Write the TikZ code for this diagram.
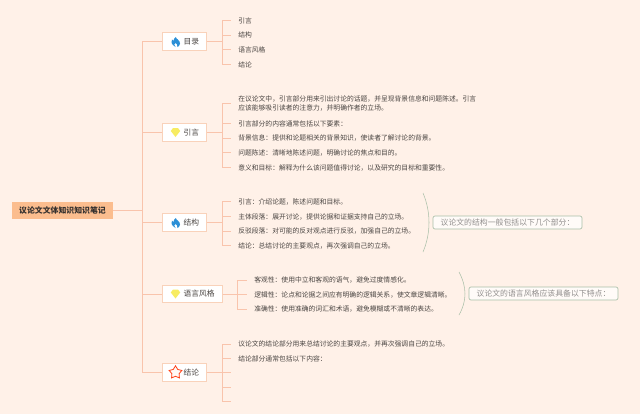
\documentclass[tikz,border=0pt]{standalone}
\usepackage{fontspec}
\setmainfont{Noto Sans CJK SC}
\usepackage{xcolor}
\usetikzlibrary{shapes.geometric}
\definecolor{sfondo}{HTML}{FFF1E8}
\definecolor{ramo}{HTML}{F9C4AC}
\definecolor{bordo}{HTML}{F9D2BA}
\definecolor{radice}{HTML}{FBBD8E}
\definecolor{testo}{HTML}{4A4542}
\definecolor{nota}{HTML}{A9BFA8}
\definecolor{gemma}{HTML}{F7EC62}
\definecolor{fiamma}{HTML}{2B8FD6}
\tikzset{
    root/.style = {fill=radice, text=testo!70!black, font=\fontsize{5.9}{7}\selectfont\bfseries, minimum width=75.75pt, minimum height=12.75pt, inner sep=0pt},
    branch/.style = {draw=bordo, line width=0.8pt, fill=white, text=testo, font=\fontsize{5.8}{7}\selectfont, minimum height=13pt, inner ysep=0pt, inner xsep=5.8pt, anchor=west},
    leaf/.style = {text=testo, font=\fontsize{5.1}{7.3}\selectfont, align=left, anchor=west, inner xsep=5.25pt, inner ysep=1pt},
    note/.style = {draw=nota, rounded corners=1.5pt, line width=0.5pt, fill=white!70!sfondo, text=testo!60!white, font=\fontsize{5.9}{7}\selectfont, minimum width=111.75pt, minimum height=9.75pt, inner sep=0pt},
    trunk/.style = {draw=ramo, line width=0.7pt},
    twig/.style = {draw=ramo, line width=0.45pt},
    brace/.style = {draw=nota, line width=0.4pt}
}
\newcommand{\iconFlame}[1]{
\fill[fiamma, shift={#1}] (0,5) .. controls (-5,2) and (-4.5,-1) .. (-3.5,-2.5) .. controls (-3,-1.5) and (-2.5,-1.5) .. (-2,-1) .. controls (-2,-3) and (-1,-4) .. (0.3,-5) .. controls (0.5,-3) and (4.5,-2) .. (4.5,1.5) .. controls (4.5,3.5) and (3,4.5) .. (2,5) .. controls (2.3,3) and (1.2,1.5) .. (0,1) .. controls (-1.2,1.5) and (-2,3) .. (0,5) -- cycle;
}
\newcommand{\iconGem}[1]{
\fill[gemma, shift={#1}] (-2.5,-4.5) -- (2.5,-4.5) -- (4.7,-1.5) -- (0,4.5) -- (-4.7,-1.5) -- cycle;
}
\begin{document}
\begin{tikzpicture}[x=0.75pt, y=-0.75pt]
    \useasboundingbox[fill=sfondo] (0,0) rectangle (640,414);
    % Radice
    \node[root] (rootnote) at (62.5,210.5) {议论文文体知识知识笔记};
    % Rami
    \node[branch] (bmulu) at (162,41.5) {\hspace*{10pt}目录};
    \node[branch] (byinyan) at (162,132.5) {\hspace*{10pt}引言};
    \node[branch] (bjiegou) at (162,222.5) {\hspace*{10pt}结构};
    \node[branch] (byuyan) at (162,294) {\hspace*{10pt}语言风格};
    \node[branch] (bjielun) at (162,372.5) {\hspace*{10pt}结论};
    \foreach \nome in {bmulu, byinyan, bjiegou, byuyan, bjielun}{
        \draw[trunk] (rootnote.east) -- ++(29,0) |- (\nome.west);
    }
    % Icone
    \iconFlame{(175.5,42)}
    \iconGem{(175.5,132.5)}
    \iconFlame{(175.5,223)}
    \iconGem{(175.5,294)}
    \node[star, star points=5, star point ratio=1.75, draw=red!65!orange!90!white, line width=0.6pt, fill=white!60!sfondo, minimum size=10pt, inner sep=0pt] (starjielun) at (175.5,372.5) {};
    % Foglie
    \foreach \y/\nome/\testo in {20.5/ma/引言, 35/mb/结构, 49.5/mc/语言风格, 64.5/md/结论}{
        \node[leaf] (\nome) at (231,\y) {\testo};
        \draw[twig] (bmulu.east) -- ++(14.5,0) |- (\nome.west);
    }
    \foreach \y/\nome/\testo in {
        103.5/ya/{在议论文中，引言部分用来引出讨论的话题，并呈现背景信息和问题陈述。引言\\应该能够吸引读者的注意力，并明确作者的立场。},
        123.5/yb/引言部分的内容通常包括以下要素：,
        138/yc/背景信息：提供和论题相关的背景知识，使读者了解讨论的背景。,
        152.5/yd/问题陈述：清晰地陈述问题，明确讨论的焦点和目的。,
        167.5/ye/意义和目标：解释为什么该问题值得讨论，以及研究的目标和重要性。}{
        \node[leaf] (\nome) at (231,\y) {\testo};
        \draw[twig] (byinyan.east) -- ++(14.5,0) |- (\nome.west);
    }
    \foreach \y/\nome/\testo in {
        201.5/ja/引言：介绍论题，陈述问题和目标。,
        216.5/jb/主体段落：展开讨论，提供论据和证据支持自己的立场。,
        231/jc/反驳段落：对可能的反对观点进行反驳，加强自己的立场。,
        245.5/jd/结论：总结讨论的主要观点，再次强调自己的立场。}{
        \node[leaf] (\nome) at (231,\y) {\testo};
        \draw[twig] (bjiegou.east) -- ++(14.5,0) |- (\nome.west);
    }
    \foreach \y/\nome/\testo in {
        280/la/客观性：使用中立和客观的语气，避免过度情感化。,
        294.5/lb/逻辑性：论点和论据之间应有明确的逻辑关系，使文章逻辑清晰。,
        309/lc/准确性：使用准确的词汇和术语，避免模糊或不清晰的表达。}{
        \node[leaf] (\nome) at (247,\y) {\testo};
        \draw[twig] (byuyan.east) -- ++(14.5,0) |- (\nome.west);
    }
    \foreach \y/\nome/\testo in {
        344/ca/议论文的结论部分用来总结讨论的主要观点，并再次强调自己的立场。,
        358.5/cb/结论部分通常包括以下内容：}{
        \node[leaf] (\nome) at (231,\y) {\testo};
        \draw[twig] (bjielun.east) -- ++(14.5,0) |- (\nome.west);
    }
    \foreach \y/\nome in {372.5/cc, 387/cd, 401.5/ce}{
        \coordinate (\nome) at (231,\y);
        \draw[twig] (bjielun.east) -- ++(14.5,0) |- (\nome);
    }
    % Note
    \node[note] (notejiegou) at (507.5,222.5) {议论文的结构一般包括以下几个部分：};
    \node[note] (noteyuyan) at (543.5,293.5) {议论文的语言风格应该具备以下特点：};
    \draw[brace] (423,193) .. controls (431,212) and (431,233) .. (423,252);
    \draw[brace] (459,272) .. controls (467,287) and (467,301) .. (459,315);
\end{tikzpicture}
\end{document}
